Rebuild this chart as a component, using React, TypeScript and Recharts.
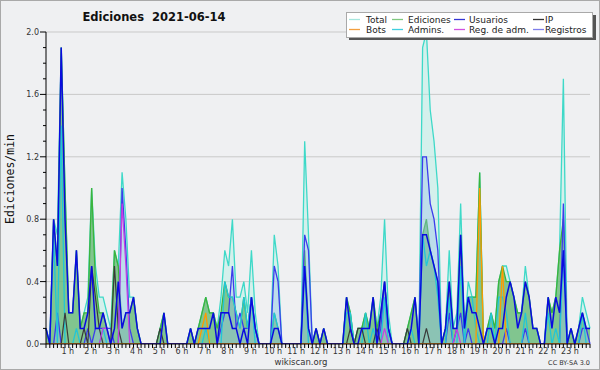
import React from 'react';
import { ComposedChart, Area, Line, XAxis, YAxis, CartesianGrid } from 'recharts';

// 10-minute buckets, 6 per hour (each row below = one hour)
const total = [
  0.1, 0, 0.8, 0.7, 1.9, 1.0,
  0.2, 0.2, 0.6, 0.1, 0.2, 0.3,
  1.0, 0.5, 0.3, 0.3, 0.2, 0.1,
  0.6, 0.5, 1.1, 0.8, 0.3, 0.3,
  0.1, 0, 0, 0, 0, 0,
  0.1, 0.2, 0, 0, 0, 0,
  0, 0, 0.1, 0, 0.1, 0.2,
  0.3, 0.2, 0.2, 0.1, 0.3, 0.6,
  0.5, 0.8, 0.3, 0.3, 0.4, 0.2,
  0.6, 0.2, 0, 0, 0, 0,
  0.7, 0.5, 0, 0, 0, 0,
  0, 0, 1.3, 0.7, 0, 0.1,
  0, 0.1, 0, 0, 0, 0,
  0, 0.3, 0.2, 0, 0.1, 0.1,
  0.2, 0.1, 0.3, 0.1, 0.3, 0.8,
  0.2, 0, 0, 0, 0, 0.1,
  0.2, 0.3, 0, 1.9, 2.0, 1.5,
  1.3, 1.0, 0, 0.1, 0.6, 0.1,
  0.2, 0.9, 0.1, 0.4, 0.3, 0.3,
  1.1, 0, 0.1, 0.2, 0.1, 0.4,
  0.5, 0.5, 0.4, 0.3, 0.2, 0.2,
  0.5, 0.3, 0.1, 0.1, 0, 0,
  0.3, 0.2, 0.3, 0.6, 1.7, 0,
  0.1, 0, 0.1, 0.3, 0.2, 0.1,
];
const ediciones = [
  0.1, 0, 0.8, 0.5, 1.9, 1.0,
  0.2, 0.2, 0.6, 0.1, 0.2, 0.2,
  1.0, 0.4, 0.2, 0.2, 0.1, 0,
  0.6, 0.5, 0.1, 0.2, 0.2, 0.3,
  0.1, 0, 0, 0, 0, 0,
  0.1, 0.2, 0, 0, 0, 0,
  0, 0, 0.1, 0, 0.1, 0.2,
  0.3, 0.2, 0.2, 0.1, 0.2, 0.4,
  0.3, 0.3, 0.2, 0.1, 0.3, 0.1,
  0.3, 0.1, 0, 0, 0, 0,
  0.2, 0.1, 0, 0, 0, 0,
  0, 0, 0.6, 0.1, 0, 0.1,
  0, 0.1, 0, 0, 0, 0,
  0, 0.3, 0.2, 0, 0.1, 0.1,
  0.2, 0.1, 0.3, 0.1, 0.2, 0.4,
  0.1, 0, 0, 0, 0, 0.1,
  0.2, 0.3, 0, 0.7, 0.8, 0.6,
  0.5, 0.4, 0, 0.1, 0.4, 0.1,
  0.1, 0.7, 0.1, 0.3, 0.3, 0.3,
  1.1, 0, 0.1, 0.2, 0.1, 0.4,
  0.5, 0.4, 0.4, 0.3, 0.2, 0.2,
  0.4, 0.3, 0.1, 0.1, 0, 0,
  0.3, 0.2, 0.3, 0.6, 0.8, 0,
  0.1, 0, 0.1, 0.2, 0.1, 0.1,
];
const usuarios = [
  0.1, 0, 0.8, 0.5, 1.9, 0.8,
  0.2, 0.2, 0.6, 0.1, 0.1, 0.2,
  0.5, 0.1, 0.1, 0.2, 0.1, 0,
  0.1, 0.4, 0.1, 0.2, 0.2, 0.3,
  0.1, 0, 0, 0, 0, 0,
  0, 0.2, 0, 0, 0, 0,
  0, 0, 0.1, 0, 0.1, 0.1,
  0.1, 0.1, 0.2, 0, 0.2, 0.2,
  0.2, 0.1, 0.1, 0, 0.1, 0,
  0.3, 0.1, 0, 0, 0, 0,
  0.1, 0.1, 0, 0, 0, 0,
  0, 0, 0.5, 0.1, 0, 0.1,
  0, 0.1, 0, 0, 0, 0,
  0, 0.3, 0.1, 0, 0, 0.1,
  0.1, 0.1, 0.3, 0, 0.2, 0.4,
  0.1, 0, 0, 0, 0, 0,
  0.1, 0.3, 0, 0.7, 0.7, 0.6,
  0.5, 0.4, 0, 0.1, 0.4, 0.1,
  0.1, 0.7, 0.1, 0.3, 0.2, 0.2,
  0.1, 0, 0.1, 0.1, 0, 0.1,
  0.1, 0.3, 0.4, 0.3, 0.1, 0.2,
  0.4, 0.3, 0.1, 0.1, 0, 0,
  0.3, 0.1, 0.3, 0.2, 0.6, 0,
  0.1, 0, 0.1, 0.2, 0.1, 0.1,
];
const ip = [
  0, 0, 0, 0, 0, 0.2,
  0, 0, 0, 0, 0.1, 0,
  0.5, 0.3, 0.1, 0, 0, 0,
  0.5, 0.1, 0, 0, 0, 0,
  0, 0, 0, 0, 0, 0,
  0.1, 0, 0, 0, 0, 0,
  0, 0, 0, 0, 0, 0,
  0, 0, 0, 0, 0, 0,
  0, 0, 0, 0, 0, 0,
  0, 0, 0, 0, 0, 0,
  0, 0, 0, 0, 0, 0,
  0, 0, 0, 0, 0, 0,
  0, 0, 0, 0, 0, 0,
  0, 0, 0.1, 0, 0.1, 0.1,
  0, 0, 0, 0.1, 0, 0,
  0, 0, 0, 0, 0, 0.1,
  0, 0, 0, 0, 0.1, 0,
  0, 0, 0, 0, 0, 0,
  0, 0, 0, 0, 0, 0,
  0, 0, 0, 0, 0, 0,
  0, 0, 0, 0, 0, 0,
  0, 0, 0, 0, 0, 0,
  0, 0, 0, 0, 0, 0,
  0, 0, 0, 0, 0, 0,
];
const bots = [
  0, 0, 0, 0, 0, 0,
  0, 0, 0, 0, 0, 0,
  0, 0, 0, 0, 0, 0,
  0, 0, 0, 0, 0, 0,
  0, 0, 0, 0, 0, 0,
  0, 0, 0, 0, 0, 0,
  0, 0, 0, 0, 0, 0.1,
  0.2, 0, 0, 0, 0, 0,
  0, 0, 0, 0, 0, 0,
  0, 0, 0, 0, 0, 0,
  0, 0, 0, 0, 0, 0,
  0, 0, 0, 0, 0, 0,
  0, 0, 0, 0, 0, 0,
  0, 0, 0, 0, 0, 0,
  0, 0, 0, 0, 0, 0,
  0, 0, 0, 0, 0, 0,
  0, 0, 0, 0, 0, 0,
  0, 0, 0, 0, 0, 0,
  0, 0, 0, 0, 0, 0,
  1.0, 0, 0, 0, 0, 0,
  0.5, 0, 0, 0, 0, 0,
  0, 0, 0, 0, 0, 0,
  0, 0, 0, 0, 0, 0,
  0, 0, 0, 0, 0, 0,
];
const admins = [
  0, 0, 0.7, 0, 1.4, 0,
  0, 0, 0.1, 0, 0, 0,
  0, 0, 0, 0.1, 0, 0,
  0, 0, 0, 0, 0, 0,
  0, 0, 0, 0, 0, 0,
  0, 0, 0, 0, 0, 0,
  0, 0, 0, 0, 0, 0,
  0.1, 0, 0, 0, 0, 0.4,
  0.3, 0.3, 0.2, 0.1, 0.3, 0.1,
  0.3, 0, 0, 0, 0, 0,
  0.2, 0.1, 0, 0, 0, 0,
  0, 0, 0.5, 0, 0, 0,
  0, 0, 0, 0, 0, 0,
  0, 0.2, 0.2, 0, 0, 0,
  0.2, 0, 0.1, 0, 0, 0.3,
  0, 0, 0, 0, 0, 0,
  0.1, 0, 0, 0.7, 0.5, 0.6,
  0.5, 0.3, 0, 0, 0.3, 0,
  0, 0.5, 0, 0.3, 0.3, 0.1,
  0, 0, 0, 0.2, 0, 0.3,
  0.3, 0.2, 0, 0, 0, 0,
  0.2, 0, 0, 0, 0, 0,
  0.2, 0, 0.1, 0, 0.6, 0,
  0, 0, 0, 0.2, 0, 0,
];
const regAdm = [
  0, 0, 0, 0, 0, 0,
  0, 0, 0, 0, 0, 0,
  0, 0, 0, 0.1, 0.1, 0,
  0, 0, 0.9, 0.5, 0, 0,
  0, 0, 0, 0, 0, 0,
  0, 0, 0, 0, 0, 0,
  0, 0, 0, 0, 0, 0,
  0, 0, 0, 0, 0, 0,
  0, 0, 0, 0, 0, 0,
  0, 0, 0, 0, 0, 0,
  0, 0, 0, 0, 0, 0,
  0, 0, 0, 0, 0, 0,
  0, 0, 0, 0, 0, 0,
  0, 0, 0, 0, 0, 0,
  0, 0, 0, 0, 0, 0.1,
  0, 0, 0, 0, 0, 0,
  0, 0, 0, 0, 0, 0,
  0, 0, 0, 0, 0, 0,
  0.1, 0, 0, 0, 0, 0,
  0, 0, 0, 0, 0, 0,
  0, 0, 0, 0, 0, 0,
  0, 0, 0, 0, 0, 0,
  0, 0, 0, 0, 0, 0,
  0, 0, 0, 0, 0, 0,
];
const registros = [
  0, 0, 0, 0.2, 0, 0,
  0, 0, 0, 0, 0, 0.1,
  0, 0.1, 0.1, 0.1, 0.1, 0.1,
  0, 0, 1.0, 0.6, 0.1, 0,
  0, 0, 0, 0, 0, 0,
  0, 0, 0, 0, 0, 0,
  0, 0, 0, 0, 0, 0,
  0, 0, 0, 0, 0.1, 0.2,
  0.2, 0.5, 0.1, 0.2, 0.1, 0.1,
  0.3, 0.1, 0, 0, 0, 0,
  0.5, 0.4, 0, 0, 0, 0,
  0, 0, 0.7, 0.6, 0, 0,
  0, 0, 0, 0, 0, 0,
  0, 0, 0, 0, 0, 0,
  0, 0, 0, 0, 0.1, 0.4,
  0.1, 0, 0, 0, 0, 0,
  0, 0, 0, 1.2, 1.2, 0.9,
  0.8, 0.6, 0, 0, 0.2, 0,
  0.1, 0.2, 0, 0.1, 0, 0,
  0, 0, 0, 0, 0, 0,
  0, 0.1, 0, 0, 0, 0,
  0.1, 0, 0, 0, 0, 0,
  0, 0, 0, 0, 0.9, 0,
  0, 0, 0, 0.1, 0.1, 0,
];

const hourLabels = ['1 h', '2 h', '3 h', '4 h', '5 h', '6 h', '7 h', '8 h', '9 h', '10 h', '11 h', '12 h',
  '13 h', '14 h', '15 h', '16 h', '17 h', '18 h', '19 h', '20 h', '21 h', '22 h', '23 h'];
const yTicks = [0, 0.1, 0.2, 0.3, 0.4, 0.5, 0.6, 0.7, 0.8, 0.9, 1.0, 1.1, 1.2, 1.3, 1.4, 1.5, 1.6, 1.7, 1.8, 1.9, 2.0];
const gridValues = [0.4, 0.8, 1.2, 1.6, 2.0];

const legendItems = [
  { name: 'Total', color: '#a6e6de', col: 0, row: 0 },
  { name: 'Ediciones', color: '#80c880', col: 1, row: 0 },
  { name: 'Usuarios', color: '#3535d5', col: 2, row: 0 },
  { name: 'IP', color: '#333333', col: 3, row: 0 },
  { name: 'Bots', color: '#f3a040', col: 0, row: 1 },
  { name: 'Admins.', color: '#40cfdf', col: 1, row: 1 },
  { name: 'Reg. de adm.', color: '#d050e0', col: 2, row: 1 },
  { name: 'Registros', color: '#7e7eea', col: 3, row: 1 },
];

const data = total.map((t, i) => ({
  i,
  total: t,
  ediciones: ediciones[i],
  usuarios: usuarios[i],
  ip: ip[i],
  bots: bots[i],
  admins: admins[i],
  regAdm: regAdm[i],
  registros: registros[i],
}));
const xTicks = data.map((d) => d.i);

const FONT = '"DejaVu Sans", Verdana, sans-serif';

const XTick = (props: any) => {
  const { x, y, payload } = props;
  const v = payload.value;
  const isHour = v % 6 === 0 && v > 0;
  return (
    <g>
      <line x1={x} x2={x} y1={y} y2={y + 4} stroke="#000" strokeWidth={1} />
      {isHour && (
        <text x={x - 1} y={y + 10} textAnchor="middle" fontSize={8} fill="#333" fontFamily={FONT}>
          {hourLabels[v / 6 - 1]}
        </text>
      )}
    </g>
  );
};

const YTick = (props: any) => {
  const { x, y, payload } = props;
  const v = payload.value;
  const major = Math.round(v * 10) % 4 === 0;
  return (
    <g>
      <line x1={x - (major ? 6 : 3)} x2={x} y1={y} y2={y} stroke="#000" strokeWidth={1} />
      {major && (
        <text x={x - 7} y={y + 3} textAnchor="end" fontSize={8} fill="#333" fontFamily={FONT}>
          {v.toFixed(1)}
        </text>
      )}
    </g>
  );
};

const colX = [349, 392, 454, 533];
const textX = [366, 408, 469, 545];

export default function App() {
  return (
    <div style={{ position: 'absolute', left: 0, top: 0, width: 600, height: 370, background: '#eff0f2' }}>
      <div style={{ position: 'absolute', left: 0, top: 0, width: 600, height: 370, boxSizing: 'border-box', border: '1px solid #a9a9a9' }} />
      <div style={{ position: 'absolute', left: 0, top: 0 }}>
        <ComposedChart width={600} height={370} data={data} margin={{ top: 32, right: 10, bottom: 6, left: 0 }}>
          <CartesianGrid horizontal vertical={false} stroke="#c9c9c9" horizontalValues={gridValues} />
          <XAxis
            dataKey="i"
            type="number"
            domain={[0, 143]}
            ticks={xTicks}
            interval={0}
            tick={<XTick />}
            tickLine={false}
            tickSize={0}
            tickMargin={0}
            height={20}
            axisLine={{ stroke: '#000' }}
          />
          <YAxis
            type="number"
            domain={[0, 2]}
            ticks={yTicks}
            interval={0}
            tick={<YTick />}
            tickLine={false}
            tickSize={0}
            tickMargin={0}
            width={46}
            axisLine={{ stroke: '#000' }}
            allowDataOverflow
          />
          <Area type="linear" dataKey="total" stroke="#3ed9c8" strokeWidth={1.3} fill="#b4f0e4" fillOpacity={0.45} isAnimationActive={false} dot={false} activeDot={false} />
          <Area type="linear" dataKey="ediciones" stroke="#3cb43c" strokeWidth={1.3} fill="#4aa852" fillOpacity={0.6} isAnimationActive={false} dot={false} activeDot={false} />
          <Area type="linear" dataKey="registros" stroke="#3c3cec" strokeWidth={1.3} fill="#9cc0ea" fillOpacity={0.4} isAnimationActive={false} dot={false} activeDot={false} />
          <Line type="linear" dataKey="admins" stroke="#22c6d6" strokeWidth={1.3} dot={false} activeDot={false} isAnimationActive={false} />
          <Line type="linear" dataKey="ip" stroke="#3a3a3a" strokeWidth={1.2} dot={false} activeDot={false} isAnimationActive={false} />
          <Line type="linear" dataKey="regAdm" stroke="#c83ee0" strokeWidth={1.2} dot={false} activeDot={false} isAnimationActive={false} />
          <Line type="linear" dataKey="bots" stroke="#ff9a00" strokeWidth={1.3} dot={false} activeDot={false} isAnimationActive={false} />
          <Line type="linear" dataKey="usuarios" stroke="#0a0ae0" strokeWidth={1.5} dot={false} activeDot={false} isAnimationActive={false} />
        </ComposedChart>
      </div>
      <svg width={600} height={370} style={{ position: 'absolute', left: 0, top: 0, pointerEvents: 'none' }}>
        <text x={154} y={21} textAnchor="middle" fontSize={11.5} fontWeight="bold" fill="#111" fontFamily={FONT} style={{ whiteSpace: 'pre' }}>
          {'Ediciones  2021-06-14'}
        </text>
        <text transform="translate(14,179) rotate(-90)" textAnchor="middle" fontSize={11.5} fill="#111" fontFamily='"DejaVu Sans Mono", monospace'>
          Ediciones/min
        </text>
        <text x={301} y={365} textAnchor="middle" fontSize={8.5} fill="#333" fontFamily={FONT}>wikiscan.org</text>
        <text x={590} y={365} textAnchor="end" fontSize={6.5} fill="#333" fontFamily={FONT}>CC BY-SA 3.0</text>
        <rect x={349} y={15} width={247} height={25} fill="#555" />
        <rect x={346.5} y={12.5} width={246} height={25} fill="#fff" stroke="#a9a9a9" />
        {legendItems.map((it) => (
          <g key={it.name}>
            <line x1={colX[it.col]} x2={colX[it.col] + 11} y1={19.5 + it.row * 10} y2={19.5 + it.row * 10} stroke={it.color} strokeWidth={1.3} />
            <text x={textX[it.col]} y={22.7 + it.row * 10} fontSize={9} fill="#222" fontFamily={FONT}>{it.name}</text>
          </g>
        ))}
      </svg>
    </div>
  );
}
